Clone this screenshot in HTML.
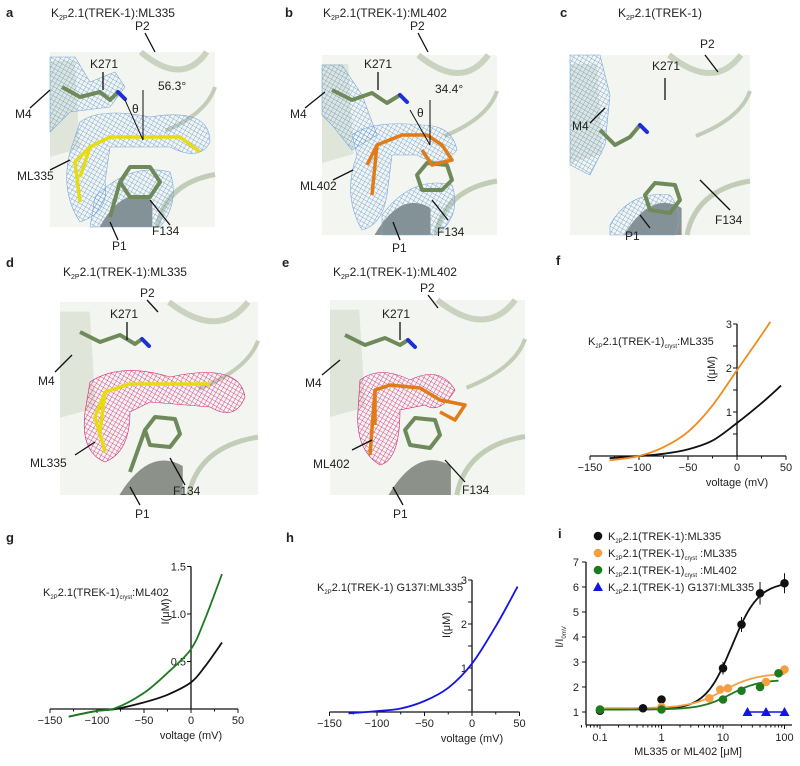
<!DOCTYPE html>
<html><head><meta charset="utf-8"><style>
body{margin:0;background:#fff;}
svg{display:block;font-family:"Liberation Sans",Arial,sans-serif;}
text{fill:#222;}
</style></head><body>
<svg id="fig" width="800" height="766" viewBox="0 0 800 766">
<defs>
<pattern id="meshB" width="4" height="4" patternUnits="userSpaceOnUse" patternTransform="rotate(30)"><path d="M0 0H4M0 0V4" stroke="#5b95d6" stroke-width="0.7" fill="none"/></pattern>
<pattern id="meshM" width="4" height="4" patternUnits="userSpaceOnUse" patternTransform="rotate(30)"><path d="M0 0H4M0 0V4" stroke="#d6247a" stroke-width="0.8" fill="none"/></pattern>
</defs>
<g id="structs"></g>
<g id="charts"></g>
</svg>
<script>
// ---------- data: panel f ----------
const fV = [-130,-100,-75,-50,-25,0,25,45];
const fBlack = [-0.05,0,0.05,0.15,0.35,0.75,1.2,1.6];
const fOrangeV = [-130,-100,-75,-50,-25,0,25,34];
const fOrange = [-0.1,0,0.2,0.55,1.15,1.95,2.75,3.05];
// ---------- panel g ----------
const gV = [-130,-100,-80,-50,-25,0,15,33];
const gBlack = [-0.08,-0.02,0,0.07,0.15,0.28,0.45,0.7];
const gGreen = [-0.08,-0.02,0.01,0.17,0.38,0.63,0.95,1.42];
// ---------- panel h ----------
const hV = [-130,-100,-75,-50,-25,0,25,48];
const hBlue = [-0.03,0.02,0.08,0.25,0.55,1.1,1.95,2.85];
// ---------- panel i ----------
const iBlackX=[0.1,0.5,1,10,20,40,100], iBlackY=[1.05,1.15,1.5,2.75,4.5,5.75,6.15], iBlackE=[0.05,0.05,0.1,0.25,0.3,0.45,0.4];
const iOrangeX=[0.1,1,6,9,12,50,100], iOrangeY=[1.1,1.2,1.55,1.9,1.95,2.2,2.7], iOrangeE=[0.05,0.05,0.1,0.12,0.12,0.12,0.12];
const iGreenX=[0.1,1,10,20,40,80], iGreenY=[1.1,1.1,1.5,1.85,2.0,2.55], iGreenE=[0.05,0.05,0.08,0.1,0.12,0.15];
const iBlueX=[25,50,100], iBlueY=[1,1,1];
const hillBlack=[1.1,6.2,14,2], hillOrange=[1.15,2.55,10,1.6], hillGreen=[1.1,2.3,13,1.8];
const iYTicks=[1,2,3,4,5,6,7], iXTicks=[0.1,1,10,100], iXLabels=["0.1","1","10","100"];

const NS="http://www.w3.org/2000/svg";
function el(tag,attrs,parent,txt){const e=document.createElementNS(NS,tag);for(const k in attrs)e.setAttribute(k,attrs[k]);if(txt!==undefined)e.textContent=txt;parent.appendChild(e);return e;}
const S=document.getElementById('structs'), C=document.getElementById('charts');

function title(parent,x,y,pre,sub,post,name,size){
  const t=el('text',{x:x,y:y,'font-size':size||12,'text-anchor':'middle'},parent);
  
  
  el('tspan',{},t,pre); el('tspan',{'font-size':7,dy:3},t,'2P'); 
  el('tspan',{dy:-3},t,sub);
  return t;
}
function label(parent,x,y,txt,name,anchor){
  const t=el('text',{x:x,y:y,'font-size':12,'text-anchor':anchor||'start'},parent,txt);
  
  
  return t;
}
function line(parent,x1,y1,x2,y2,w,c){return el('line',{x1,y1,x2,y2,stroke:c||'#111','stroke-width':w||1.3},parent);}
function letter(x,y,t){const e=el('text',{x,y,'font-size':13,'font-weight':'bold'},S,t);}

function struct(ox,oy,w,h,mesh,lig,opts){
  const g=el('g',{transform:`translate(${ox},${oy})`},S);
  
  
  el('rect',{x:0,y:0,width:w,height:h,fill:'#f3f5f0'},g);
  el('path',{d:`M${w*0.55} 0 Q${w*0.8} ${h*0.2} ${w*0.95} 0`,fill:'none',stroke:'#c9d3c0','stroke-width':6},g);
  el('path',{d:`M${w*0.7} ${h*0.45} Q${w*0.95} ${h*0.35} ${w} ${h*0.2}`,fill:'none',stroke:'#c2cdb8','stroke-width':4},g);
  el('path',{d:`M${w*0.65} ${h} Q${w*0.7} ${h*0.75} ${w} ${h*0.7}`,fill:'none',stroke:'#c2cdb8','stroke-width':5},g);
  el('path',{d:`M0 ${h*0.05} L${w*0.15} ${h*0.05} L${w*0.18} ${h*0.55} L0 ${h*0.6}Z`,fill:'#dfe5d9'},g);
  el('path',{d:`M${w*0.3} ${h} Q${w*0.45} ${h*0.75} ${w*0.62} ${h*0.85} L${w*0.62} ${h} Z`,fill:'#8c918a'},g);
  if(opts.meshTop) el('path',{d:opts.meshTop,fill:`url(#${mesh})`,stroke:mesh==='meshB'?'#7aa8dd':'#d6247a','stroke-width':0.6},g);
  if(opts.meshLig) el('path',{d:opts.meshLig,fill:`url(#${mesh})`,stroke:mesh==='meshB'?'#7aa8dd':'#d6247a','stroke-width':0.6},g);
  if(opts.meshBot) el('path',{d:opts.meshBot,fill:`url(#${mesh})`,stroke:'#7aa8dd','stroke-width':0.6},g);
  el('polyline',{points:opts.k,fill:'none',stroke:'#6f8a5a','stroke-width':4,'stroke-linejoin':'round'},g);
  const kp=opts.k.split(' ').pop().split(',');
  el('line',{x1:+kp[0],y1:+kp[1],x2:+kp[0]+7,y2:+kp[1]+7,stroke:'#1f2fd6','stroke-width':4,'stroke-linecap':'round'},g);
  el('path',{d:opts.f,fill:'none',stroke:'#6f8a5a','stroke-width':4,'stroke-linejoin':'round'},g);
  if(opts.lig) el('path',{d:opts.lig,fill:'none',stroke:lig,'stroke-width':3.5,'stroke-linejoin':'round'},g);
  return g;
}

// a
letter(6,17,'a');
title(S,113,17,'K','2.1(TREK-1):ML335',null,'title-a');
struct(50,52,165,175,'meshB','#e8dc10',{
 meshTop:'M0 5 L25 5 L40 30 L65 20 L75 35 L60 55 L20 60 L0 80Z',
 meshLig:'M30 70 Q50 55 100 65 Q160 55 160 90 Q150 110 120 95 Q80 95 60 95 L55 130 Q60 160 30 170 Q10 140 20 100 Z',
 meshBot:'M45 145 Q80 110 120 120 Q130 150 110 175 L40 175 Z',
 k:'12,35 30,45 50,40 60,48 68,40',f:'M70 130 L80 115 L100 115 L110 130 L100 145 L80 145 Z M60 165 L70 130',
 lig:'M30 125 L40 95 L60 85 L130 85 L150 100 M40 95 L25 110 L30 150'});
line(S,145,33,155,52);label(S,135,30,'P2','label-p2-a');
line(S,103,72,103,90);label(S,90,68,'K271','label-k271-a');
line(S,30,108,50,90);label(S,15,118,'M4','label-m4-a');
line(S,50,170,70,160);label(S,17,180,'ML335','label-ml335-a');
line(S,110,222,118,240);label(S,112,250,'P1','label-p1-a');
line(S,150,200,170,225);label(S,152,235,'F134','label-f134-a');
line(S,143,90,143,140,1);line(S,143,140,125,100,1);label(S,158,90,'56.3°','label-angle-a');label(S,132,113,'θ','theta-a');

// b
letter(285,17,'b');
title(S,385,17,'K','2.1(TREK-1):ML402',null,'title-b');
struct(322,55,175,180,'meshB','#e07b18',{
 meshTop:'M0 10 L20 10 L40 40 L55 80 L30 95 L10 70 L0 60Z',
 meshLig:'M30 80 Q50 65 100 70 Q130 70 135 95 Q120 115 95 100 L70 100 L65 140 Q60 170 40 175 Q20 140 35 100 Z',
 meshBot:'M60 160 Q90 120 130 130 Q140 160 115 180 L60 180 Z',
 k:'10,35 30,45 50,38 65,48 78,40',f:'M95 120 L105 108 L125 110 L130 125 L120 135 L100 135 Z',
 lig:'M45 110 L55 90 L80 80 L105 80 L120 90 L130 105 L110 110 L100 95 M55 90 L50 140'});
line(S,418,33,428,52);label(S,410,30,'P2','label-p2-b');
line(S,378,72,378,90);label(S,364,68,'K271','label-k271-b');
line(S,305,108,325,92);label(S,290,118,'M4','label-m4-b');
line(S,333,180,353,170);label(S,300,190,'ML402','label-ml402-b');
line(S,393,222,400,240);label(S,392,252,'P1','label-p1-b');
line(S,432,200,448,220);label(S,437,236,'F134','label-f134-b');
line(S,430,100,430,145,1);line(S,430,145,410,110,1);label(S,435,93,'34.4°','label-angle-b');label(S,417,117,'θ','theta-b');

// c
letter(560,17,'c');
title(S,660,17,'K','2.1(TREK-1)',null,'title-c');
struct(570,55,180,180,'meshB','#000',{
 meshTop:'M0 0 L30 0 L40 40 L35 90 L20 120 L0 110Z',
 meshBot:'M40 170 Q60 135 100 140 Q115 160 105 180 L40 180 Z',
 k:'30,75 45,90 60,82 70,70',f:'M75 140 L85 128 L105 130 L110 145 L100 158 L80 155 Z'});
line(S,665,78,665,100);label(S,652,70,'K271','label-k271-c');
line(S,705,55,718,72);label(S,700,48,'P2','label-p2-c');
line(S,590,123,605,108);label(S,572,130,'M4','label-m4-c');
line(S,640,215,650,228);label(S,625,240,'P1','label-p1-c');
line(S,700,180,730,210);label(S,715,224,'F134','label-f134-c');

// d
letter(6,267,'d');
title(S,125,276,'K','2.1(TREK-1):ML335',null,'title-d');
struct(60,302,198,193,'meshM','#e8dc10',{
 meshLig:'M30 80 Q60 60 110 75 Q180 60 185 95 Q175 120 150 105 L90 100 L70 110 Q70 150 45 160 Q20 150 25 110 Z',
 k:'20,30 40,40 60,33 75,42 82,37',f:'M85 128 L95 115 L115 117 L120 132 L110 145 L90 143 Z M70 170 L85 128',
 lig:'M40 130 L45 90 L70 82 L150 82 M45 90 L35 115 L45 150'});
line(S,147,300,158,312);label(S,140,297,'P2','label-p2-d');
line(S,127,322,127,340);label(S,110,318,'K271','label-k271-d');
line(S,55,372,72,355);label(S,38,385,'M4','label-m4-d');
line(S,75,455,95,442);label(S,30,467,'ML335','label-ml335-d');
line(S,130,487,140,505);label(S,135,518,'P1','label-p1-d');
line(S,170,458,185,485);label(S,173,495,'F134','label-f134-d');

// e
letter(282,267,'e');
title(S,395,276,'K','2.1(TREK-1):ML402',null,'title-e');
struct(330,300,195,195,'meshM','#e07b18',{
 meshLig:'M30 80 Q50 65 80 80 Q110 65 125 90 Q110 115 95 105 L70 110 Q70 160 50 165 Q25 150 28 110 Z',
 k:'15,35 35,45 55,38 70,45 78,40',f:'M75 130 L85 118 L105 120 L110 135 L100 148 L80 145 Z',
 lig:'M45 125 L45 90 L60 85 L90 88 L110 100 L135 105 L125 120 L110 112 M45 90 L40 155'});
line(S,428,295,438,308);label(S,420,292,'P2','label-p2-e');
line(S,400,322,400,340);label(S,382,318,'K271','label-k271-e');
line(S,322,375,340,360);label(S,305,387,'M4','label-m4-e');
line(S,352,450,372,440);label(S,313,468,'ML402','label-ml402-e');
line(S,393,487,403,505);label(S,393,518,'P1','label-p1-e');
line(S,445,460,465,482);label(S,462,494,'F134','label-f134-e');

// smooth path through points (Catmull-Rom -> cubic Bezier)
function smooth(P){
  let d='M'+P[0][0].toFixed(1)+' '+P[0][1].toFixed(1);
  for(let i=0;i<P.length-1;i++){
    const p0=P[i-1]||P[i],p1=P[i],p2=P[i+1],p3=P[i+2]||p2;
    const c1=[p1[0]+(p2[0]-p0[0])/6,p1[1]+(p2[1]-p0[1])/6],c2=[p2[0]-(p3[0]-p1[0])/6,p2[1]-(p3[1]-p1[1])/6];
    d+=`C${c1[0].toFixed(1)} ${c1[1].toFixed(1)} ${c2[0].toFixed(1)} ${c2[1].toFixed(1)} ${p2[0].toFixed(1)} ${p2[1].toFixed(1)}`;
  }
  return d;
}

function ivChart(name,ax,y0,pxU,px50,yTicks,yTickLabels,series,lab,titleParts){
  const g=el('g',{},C);
  
  
  const xs=v=>ax+v/50*px50, ys=v=>y0-v*pxU;
  const xa=line(g,xs(-150),y0,xs(50),y0,1.3);
  
  const ya=line(g,ax,y0,ax,ys(yTicks[yTicks.length-1]),1.3);
  
  [-150,-125,-100,-75,-50,-25,0,25,50].forEach(v=>{line(g,xs(v),y0,xs(v),y0+(v%50===0?4:2.5),1);});
  [-150,-100,-50,0,50].forEach(v=>{const t=el('text',{x:xs(v),y:y0+15,'font-size':11,'text-anchor':'middle'},g,String(v).replace('-','−'));});
  yTicks.forEach((v,i)=>{line(g,ax,ys(v),ax-4,ys(v),1);if(yTickLabels[i]){const t=el('text',{x:ax-5,y:ys(v)+4,'font-size':11,'text-anchor':'end'},g,yTickLabels[i]);}});
  const xt=el('text',{x:ax,y:y0+30,'font-size':11,'text-anchor':'middle'},g,'voltage (mV)');
  
  const ty=ys(yTicks[yTicks.length-1])+45, tx=ax-22;
  const yt=el('text',{x:tx,y:ty,'font-size':11,'text-anchor':'middle',transform:`rotate(-90 ${tx} ${ty})`},g,'I(μM)');
  
  series.forEach(s=>{
    const P=s.v.map((v,i)=>[xs(v),ys(s.y[i])]);
    const p=el('path',{d:smooth(P),fill:'none',stroke:s.c,'stroke-width':1.8,'stroke-linejoin':'round'},g);
    
    
  });
  const t=el('text',{x:lab[0],y:lab[1],'font-size':11,'text-anchor':'start'},g);
  
  el('tspan',{},t,'K');el('tspan',{'font-size':6,dy:3},t,'2P');el('tspan',{dy:-3},t,titleParts[0]);
  if(titleParts[1]){el('tspan',{'font-size':6,dy:3},t,titleParts[1]);el('tspan',{dy:-3},t,titleParts[2]);}
}
letter(556,265,'f');
ivChart('chart-f-iv',737,456,44,49,[0.5,1,1.5,2,2.5,3],['','1','','2','','3'],
  [{v:fV,y:fBlack,c:'#111',n:'line-trek1-ml335'},{v:fOrangeV,y:fOrange,c:'#f08c1c',n:'line-cryst-ml335'}],
  [588,345],['2.1(TREK-1)','cryst',':ML335']);
letter(6,542,'g');
ivChart('chart-g-iv',191,709,95,47,[0.5,1,1.5],['0.5','1.0','1.5'],
  [{v:gV,y:gBlack,c:'#111',n:'line-trek1-ml402'},{v:gV,y:gGreen,c:'#1e7a1e',n:'line-cryst-ml402'}],
  [43,596],['2.1(TREK-1)','cryst',':ML402']);
letter(286,542,'h');
ivChart('chart-h-iv',472,712,44,47.5,[0.5,1,1.5,2,2.5,3],['','1','','2','','3'],
  [{v:hV,y:hBlue,c:'#1414e6',n:'line-g137i-ml335'}],
  [317,591],['2.1(TREK-1) G137I:ML335']);

// ---------- panel i ----------
(function(){
  const g=el('g',{},C);
  
  
  const X0=586,Y0=725,xs=v=>600+Math.log10(v/0.1)*61.5,ys=v=>712-(v-1)*25;
  const xa=line(g,X0,Y0,792,Y0,1.3);
  const ya=line(g,X0,Y0,X0,ys(7),1.3);
  for(let d=0.05;d<=100.01;){line(g,xs(d),Y0,xs(d),Y0+(iXTicks.includes(+d.toPrecision(3))?4:2.5),1);const m=Math.pow(10,Math.floor(Math.log10(d)+1e-9));d=+(d+m).toPrecision(3);}
  iXTicks.forEach((v,i)=>{const t=el('text',{x:xs(v),y:Y0+16,'font-size':11,'text-anchor':'middle'},g,iXLabels[i]);});
  iYTicks.forEach(v=>{line(g,X0,ys(v),X0-4,ys(v),1);const t=el('text',{x:X0-7,y:ys(v)+4,'font-size':11,'text-anchor':'end'},g,String(v));});
  const xt=el('text',{x:688,y:755,'font-size':11,'text-anchor':'middle'},g,'ML335 or ML402 [μM]');
  const yt=el('text',{x:563,y:637,'font-size':11,'text-anchor':'middle',transform:'rotate(-90 563 637)'},g);
  el('tspan',{},yt,'I/I');el('tspan',{'font-size':6,dy:3},yt,'0mV');
  const hill=(p,x)=>p[0]+(p[1]-p[0])/(1+Math.pow(p[2]/x,p[3]));
  function fit(p,c,n,xmax){let d='';for(let k=0;k<=80;k++){const x=0.1*Math.pow(10,k/80*Math.log10(xmax/0.1));d+=(k?'L':'M')+xs(x).toFixed(1)+' '+ys(hill(p,x)).toFixed(1);}const e=el('path',{d,fill:'none',stroke:c,'stroke-width':1.8},g);}
  fit(hillBlack,'#111','fit-black',100);fit(hillOrange,'#f5a040','fit-orange',100);fit(hillGreen,'#1e7a1e','fit-green',80);
  function pts(X,Y,E,c,n){X.forEach((x,i)=>{if(E)line(g,xs(x),ys(Y[i]-E[i]),xs(x),ys(Y[i]+E[i]),1,'#111');const p=el('circle',{cx:xs(x),cy:ys(Y[i]),r:4.3,fill:c},g);});}
  pts(iBlackX,iBlackY,iBlackE,'#111','point-trek1-ml335');
  pts(iOrangeX,iOrangeY,iOrangeE,'#f5a040','point-cryst-ml335');
  pts(iGreenX,iGreenY,iGreenE,'#1e7a1e','point-cryst-ml402');
  let bd='';iBlueX.forEach((x,i)=>{bd+=(i?'L':'M')+xs(x)+' '+ys(iBlueY[i]);});el('path',{d:bd,stroke:'#1414e6','stroke-width':1.5,fill:'none'},g);
  iBlueX.forEach((x,i)=>{const cx=xs(x),cy=ys(iBlueY[i]);const p=el('polygon',{points:`${cx},${cy-5} ${cx-5},${cy+4} ${cx+5},${cy+4}`,fill:'#1414e6'},g);});
  const leg=[['#111','circle','2.1(TREK-1):ML335',''],['#f5a040','circle','2.1(TREK-1)','cryst'],['#1e7a1e','circle','2.1(TREK-1)','cryst'],['#1414e6','tri','2.1(TREK-1) G137I:ML335','']];
  const post=['','ML335','ML402',''];
  leg.forEach((L,i)=>{const y=536+i*17;const lg=el('g',{},g);
    if(L[1]==='circle')el('circle',{cx:598,cy:y,r:4.3,fill:L[0]},lg);else el('polygon',{points:`598,${y-5} 593,${y+4} 603,${y+4}`,fill:L[0]},lg);
    const t=el('text',{x:608,y:y+4,'font-size':11},lg);el('tspan',{},t,'K');el('tspan',{'font-size':6,dy:3},t,'2P');el('tspan',{dy:-3},t,L[2]);
    if(L[3]){el('tspan',{'font-size':6,dy:3},t,L[3]);el('tspan',{dy:-3},t,' :'+post[i]);}});
  const lt=el('text',{x:558,y:538,'font-size':13,'font-weight':'bold'},g,'i');
})();
</script>
</body></html>
